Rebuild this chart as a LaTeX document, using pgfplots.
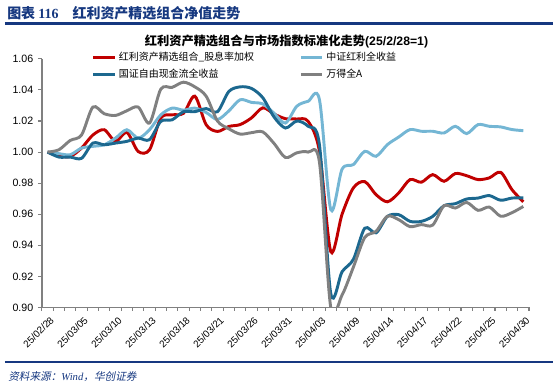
\documentclass[border=0pt]{standalone}
\usepackage{fontspec}
\setmainfont{Liberation Sans}
\newfontfamily\cjk{Noto Sans CJK SC}
\newfontfamily\cjkit{Noto Sans CJK SC}[FakeSlant=0.2]
\newfontfamily\seriff{Liberation Serif}
\usepackage{pgfplots}
\pgfplotsset{compat=1.18}
\usepackage{pgfplotstable}

\definecolor{cred}{RGB}{192,0,0}
\definecolor{clblue}{RGB}{116,182,212}
\definecolor{cdblue}{RGB}{28,104,143}
\definecolor{cgray}{RGB}{128,128,128}
\definecolor{axgray}{RGB}{128,128,128}
\definecolor{navy}{RGB}{22,56,128}

\pgfplotstableread{
i r l d g
0 1.000 1.000 1.000 1.000
1 0.9976 0.999 0.9968 1.0015
2 0.9972 0.9983 0.9968 1.0075
3 1.0026 1.0026 0.996 1.011
4 1.011 1.0037 1.0058 1.029
5 1.0144 1.0047 1.0047 1.0247
6 1.0069 1.009 1.0058 1.0236
7 1.0127 1.0144 1.0069 1.0266
8 1.0004 1.009 1.009 1.029
9 1.0015 1.0144 1.008 1.0187
10 1.022 1.024 1.0198 1.0406
11 1.024 1.0283 1.0208 1.0417
12 1.025 1.027 1.026 1.045
13 1.036 1.0283 1.026 1.042
14 1.0176 1.0255 1.028 1.036
15 1.0133 1.021 1.026 1.020
16 1.0165 1.0265 1.039 1.015
17 1.0177 1.0337 1.042 1.0116
18 1.022 1.032 1.041 1.0125
19 1.0285 1.031 1.035 1.013
20 1.0245 1.025 1.0225 1.0055
21 1.0215 1.0187 1.0155 0.9965
22 1.0213 1.0295 1.020 0.9995
23 1.0198 1.0327 1.0166 1.000
24 1.0005 1.0338 1.0048 0.9935
25 0.936 0.963 0.909 0.900
26 0.960 0.989 0.923 0.908
27 0.977 0.992 0.931 0.926
28 0.981 1.0005 0.951 0.945
29 0.9726 0.9973 0.948 0.949
30 0.968 1.0048 0.9586 0.9587
31 0.9737 1.0097 0.9597 0.9565
32 0.9823 1.0145 0.9554 0.952
33 0.9806 1.0134 0.9554 0.9533
34 0.9855 1.0134 0.9586 0.953
35 0.9812 1.0123 0.9655 0.9655
36 0.9862 1.0166 0.9668 0.964
37 0.9848 1.0119 0.9698 0.9676
38 0.9823 1.0177 0.9704 0.9625
39 0.9834 1.0166 0.972 0.9646
40 0.987 1.0162 0.969 0.9587
41 0.9758 1.0145 0.9704 0.961
42 0.968 1.0138 0.9705 0.965
}\data

\begin{document}
\begin{tikzpicture}
\begin{scope}[x=0.75pt,y=-0.75pt]
\path (0,0) rectangle (554,389);
\node[anchor=west, text=navy, inner sep=0pt, font=\cjk\bfseries\fontsize{10.5}{12}\selectfont] at (7,13) {图表\ {\seriff\bfseries 116}\quad 红利资产精选组合净值走势};
\draw[navy, line width=1.6pt] (5,23.5) -- (554,23.5);
\node[inner sep=0pt, font=\cjk\bfseries\fontsize{9.2}{11}\selectfont] at (287,42) {红利资产精选组合与市场指数标准化走势{\normalfont\bfseries (25/2/28=1)}};
\draw[navy, line width=1.6pt] (5,363) -- (554,363);
\node[anchor=west, text=navy, inner sep=0pt, font=\cjkit\fontsize{8}{10}\selectfont] at (8,377) {资料来源：{\seriff\itshape Wind}，华创证券};
\end{scope}
\begin{axis}[
  at={(31.5pt,-231pt)}, anchor=south west,
  width=366pt, height=186.75pt, scale only axis,
  xmin=-0.5, xmax=42.5, ymin=0.90, ymax=1.06,
  axis x line*=bottom, axis y line*=left,
  axis line style={draw=axgray, line width=1.2pt, -},
  tick align=outside,
  xtick={0,3,...,42},
  xticklabels={25/02/28,25/03/05,25/03/10,25/03/13,25/03/18,25/03/21,25/03/26,25/03/31,25/04/03,25/04/09,25/04/14,25/04/17,25/04/22,25/04/25,25/04/30},
  major x tick style={draw=none},
  minor xtick={-0.5,0.5,...,42.5},
  minor x tick style={draw=axgray, line width=0.8pt},
  minor tick length=2.5pt,
  ytick={0.90,0.92,0.94,0.96,0.98,1.00,1.02,1.04,1.06},
  major y tick style={draw=axgray, line width=0.8pt},
  major tick length=3pt,
  /pgf/number format/assume math mode=true,
  yticklabel style={font=\fontsize{8}{9}\selectfont, /pgf/number format/.cd, fixed, fixed zerofill, precision=2},
  x tick label style={font=\fontsize{7.4}{8.5}\selectfont, rotate=45, anchor=north east, xshift=2pt, yshift=0pt},
  legend columns=2,
  legend cell align=left,
  legend style={at={(0.094,1.05)}, anchor=north west, draw=none, fill=none,
    font=\cjk\fontsize{7.5}{9}\selectfont, row sep=1pt,
    /tikz/every even column/.append style={column sep=32pt}},
  legend image code/.code={\draw[#1, line width=2.2pt] (0pt,0pt) -- (16pt,0pt);},
]
\addplot[cred, line width=2.2pt, smooth] table[x=i,y=r]{\data};
\addlegendentry{红利资产精选组合\_股息率加权}
\addplot[clblue, line width=2.2pt, smooth] table[x=i,y=l]{\data};
\addlegendentry{中证红利全收益}
\addplot[cdblue, line width=2.2pt, smooth] table[x=i,y=d]{\data};
\addlegendentry{国证自由现金流全收益}
\addplot[cgray, line width=2.2pt, smooth] table[x=i,y=g]{\data};
\addlegendentry{万得全A}
\end{axis}
\end{tikzpicture}
\end{document}
